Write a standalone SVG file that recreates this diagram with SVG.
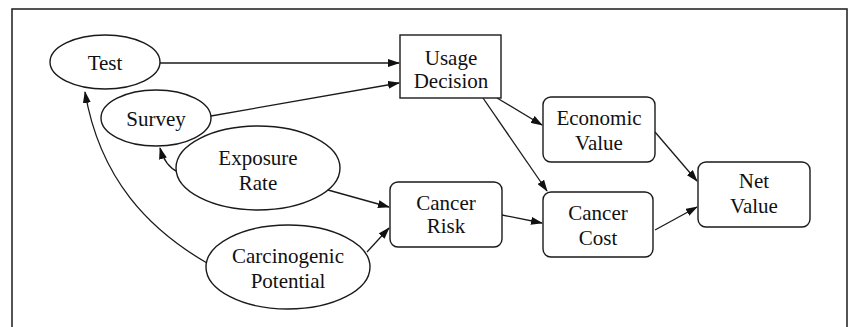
<svg xmlns="http://www.w3.org/2000/svg" width="851" height="327" viewBox="0 0 851 327">
  <style>
    .shape { fill: #fff; stroke: #1a1a1a; stroke-width: 1.4; }
    .lbl { font-family: "Liberation Serif", "Times New Roman", serif; font-size: 21px; fill: #111; text-anchor: middle; }
    .edge { fill: none; stroke: #1a1a1a; stroke-width: 1.3; marker-end: url(#arrow); }
  </style>
  <defs>
    <marker id="arrow" markerUnits="userSpaceOnUse" markerWidth="12" markerHeight="8" refX="11" refY="4" orient="auto">
      <path d="M0,0 L12,4 L0,8 Z" fill="#111"/>
    </marker>
  </defs>
  <rect width="851" height="327" fill="#fff"/>
  <!-- outer frame -->
  <rect x="12" y="9" width="835" height="340" fill="none" stroke="#2a2a2a" stroke-width="1.6"/>

  <g id="connectors">
    <path class="edge" d="M160,63 L399,63"/>
    <path class="edge" d="M211,116 L399,83"/>
    <path class="edge" d="M497,98 L542,125"/>
    <path class="edge" d="M483,98 L547,191"/>
    <path class="edge" d="M655,132 L697,181"/>
    <path class="edge" d="M655,230 L697,207"/>
    <path class="edge" d="M502,215 L542,223"/>
    <path class="edge" d="M328,190 L389,207"/>
    <path class="edge" d="M367,252 L389,228"/>
    <path class="edge" d="M178,172 Q165,166 160,148"/>
    <path class="edge" d="M207,263 C150,230 100,180 85,92"/>
  </g>

  <g id="test">
    <ellipse class="shape" cx="105" cy="62" rx="55" ry="27"/>
    <text class="lbl" x="105" y="70">Test</text>
  </g>
  <g id="survey">
    <ellipse class="shape" cx="156" cy="118" rx="55" ry="28"/>
    <text class="lbl" x="156" y="126">Survey</text>
  </g>
  <g id="exposure-rate">
    <ellipse class="shape" cx="258" cy="168" rx="82" ry="42"/>
    <text class="lbl" x="258" y="165">Exposure</text>
    <text class="lbl" x="258" y="190">Rate</text>
  </g>
  <g id="carcinogenic-potential">
    <ellipse class="shape" cx="288" cy="267" rx="82" ry="42"/>
    <text class="lbl" x="288" y="263">Carcinogenic</text>
    <text class="lbl" x="288" y="288">Potential</text>
  </g>
  <g id="usage-decision">
    <rect class="shape" x="400" y="35" width="101" height="63"/>
    <text class="lbl" x="451" y="65">Usage</text>
    <text class="lbl" x="451" y="88">Decision</text>
  </g>
  <g id="cancer-risk">
    <rect class="shape" x="390" y="182" width="112" height="65" rx="8"/>
    <text class="lbl" x="446" y="210">Cancer</text>
    <text class="lbl" x="446" y="233">Risk</text>
  </g>
  <g id="economic-value">
    <rect class="shape" x="543" y="97" width="112" height="65" rx="8"/>
    <text class="lbl" x="599" y="125">Economic</text>
    <text class="lbl" x="599" y="150">Value</text>
  </g>
  <g id="cancer-cost">
    <rect class="shape" x="543" y="192" width="110" height="65" rx="8"/>
    <text class="lbl" x="598" y="220">Cancer</text>
    <text class="lbl" x="598" y="245">Cost</text>
  </g>
  <g id="net-value">
    <rect class="shape" x="698" y="162" width="112" height="65" rx="8"/>
    <text class="lbl" x="754" y="188">Net</text>
    <text class="lbl" x="754" y="213">Value</text>
  </g>
</svg>
